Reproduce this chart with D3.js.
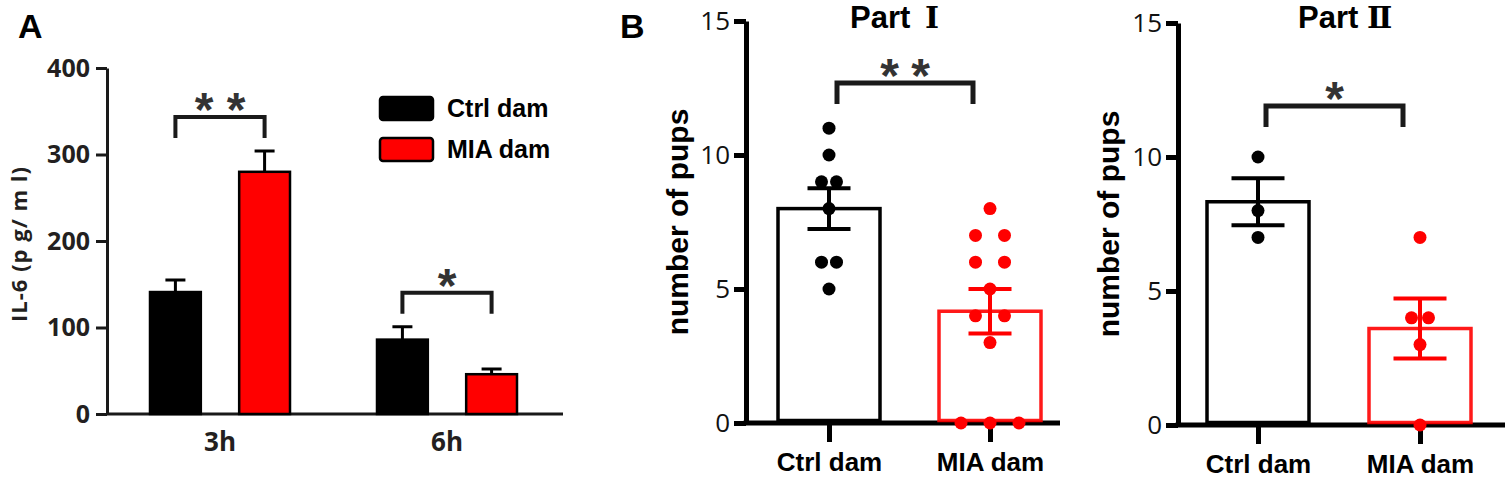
<!DOCTYPE html>
<html>
<head>
<meta charset="utf-8">
<script src="https://cdn.jsdelivr.net/npm/d3@7"></script>
<style>
  body { margin: 0; background: #fff; }
  svg { display: block; }
</style>
</head>
<body>
<div id="svg-container"></div>
<script>
// ---- Panel A data (IL-6, pg/ml) ----
const timePoints = ['3h', '6h']
const damGroups = ['Ctrl dam', 'MIA dam']
const il6Ctrl = [141, 86]
const il6CtrlSem = [14, 15]
const il6Mia = [280, 46]
const il6MiaSem = [24, 6]
const il6Ticks = [0, 100, 200, 300, 400]
const il6Stars = ['**', '*']

// ---- Panel B data (number of pups) ----
const part1Ctrl = [11, 10, 9, 9, 8, 6, 6, 5]
const part1Mia = [8, 7, 7, 6, 6, 5, 4, 4, 3, 0, 0, 0]
const part1Means = [8.0, 4.17]
const part1Sem = [0.76, 0.83]
const part2Ctrl = [10, 8, 7]
const part2Mia = [7, 4, 4, 3, 0]
const part2Means = [8.33, 3.6]
const part2Sem = [0.88, 1.12]
const pupTicks = [0, 5, 10, 15]
const partNames = ['Part', 'Part']
const partNumerals = ['Ⅰ', 'Ⅱ']
const pupStars = ['**', '*']

const width = 1505
const height = 479
const arial = "'Liberation Sans', Arial, sans-serif"
const calibri = "'Open Sans', 'Noto Sans', sans-serif"
const serif = "'DejaVu Serif', 'Noto Sans CJK SC', serif"
const red = '#ff0000'
const ink = '#111'

const svg = d3
  .select('#svg-container')
  .append('svg')
  .attr('width', width)
  .attr('height', height)
  .attr('viewBox', `0 0 ${width} ${height}`)
  .style('background', '#fff')

// draws a significance bracket with stars above it
const drawBracket = (g, x1, x2, top, bottom, stars, starSize, strokeW, starGap) => {
  g.append('path')
    .attr('d', `M${x1},${bottom}V${top}H${x2}V${bottom}`)
    .attr('fill', 'none')
    .attr('stroke', '#1a1a1a')
    .attr('stroke-width', strokeW)
  const cx = (x1 + x2) / 2
  const chars = stars.split('')
  chars.forEach((c, i) => {
    g.append('text')
      .attr('x', cx + (i - (chars.length - 1) / 2) * starGap)
      .attr('y', top - 18 + starSize * 0.56)
      .attr('text-anchor', 'middle')
      .attr('font-family', arial)
      .attr('font-weight', 700)
      .attr('font-size', starSize)
      .attr('fill', '#333')
      .text(c)
  })
}

// ================= Panel A =================
const panelA = svg.append('g')

panelA
  .append('text')
  .attr('x', 18)
  .attr('y', 38)
  .attr('font-family', arial)
  .attr('font-weight', 700)
  .attr('font-size', 34)
  .text('A')

const aY = d3.scaleLinear().domain([0, 400]).range([414, 68])
const aX = d3.scalePoint().domain(timePoints).range([220, 447])
const aInner = d3.scaleBand().domain(damGroups).range([-70, 70]).paddingInner(0.43)
const aColor = d3.scaleOrdinal().domain(damGroups).range(['#000000', red])

const aRows = timePoints.map((t, i) => ({
  t,
  stars: il6Stars[i],
  values: [
    { g: damGroups[0], mean: il6Ctrl[i], sem: il6CtrlSem[i] },
    { g: damGroups[1], mean: il6Mia[i], sem: il6MiaSem[i] },
  ],
}))

panelA
  .append('g')
  .attr('transform', `translate(107,0)`)
  .call(d3.axisLeft(aY).tickValues(il6Ticks).tickSize(11).tickSizeOuter(0).tickPadding(6))
  .call(g => g.select('.domain').attr('stroke', '#1a1a1a').attr('stroke-width', 3))
  .call(g => g.selectAll('.tick line').attr('stroke', '#1a1a1a').attr('stroke-width', 3))
  .call(g =>
    g
      .selectAll('.tick text')
      .attr('font-family', calibri)
      .attr('font-weight', 700)
      .attr('font-size', 25)
      .attr('fill', '#231f20'),
  )

panelA
  .append('line')
  .attr('x1', 106)
  .attr('x2', 563)
  .attr('y1', aY(0))
  .attr('y2', aY(0))
  .attr('stroke', '#1a1a1a')
  .attr('stroke-width', 3)

panelA
  .append('g')
  .selectAll('text')
  .data(timePoints)
  .join('text')
  .attr('x', d => aX(d))
  .attr('y', 451)
  .attr('text-anchor', 'middle')
  .attr('font-family', calibri)
  .attr('font-weight', 700)
  .attr('font-size', 26)
  .attr('fill', '#231f20')
  .text(d => d)

panelA
  .append('text')
  .attr('transform', 'translate(27,244) rotate(-90)')
  .attr('text-anchor', 'middle')
  .attr('font-family', calibri)
  .attr('font-weight', 700)
  .attr('font-size', 22)
  .attr('letter-spacing', 1)
  .attr('fill', '#231f20')
  .text('IL-6 (p g/ m l)')

const aGroups = panelA
  .append('g')
  .selectAll('g')
  .data(aRows)
  .join('g')
  .attr('transform', d => `translate(${aX(d.t)},0)`)

aGroups
  .selectAll('rect')
  .data(d => d.values)
  .join('rect')
  .attr('x', d => aInner(d.g))
  .attr('width', aInner.bandwidth())
  .attr('y', d => aY(d.mean))
  .attr('height', d => aY(0) - aY(d.mean))
  .attr('fill', d => aColor(d.g))
  .attr('stroke', '#000')
  .attr('stroke-width', 2.5)

aGroups
  .selectAll('path.err')
  .data(d => d.values)
  .join('path')
  .attr('class', 'err')
  .attr('d', d => {
    const cx = aInner(d.g) + aInner.bandwidth() / 2
    const top = aY(d.mean + d.sem)
    return `M${cx},${aY(d.mean)}V${top}M${cx - 10},${top}H${cx + 10}`
  })
  .attr('fill', 'none')
  .attr('stroke', '#000')
  .attr('stroke-width', 3)

aRows.forEach(row => {
  const cx0 = aX(row.t) + aInner(damGroups[0]) + aInner.bandwidth() / 2
  const cx1 = aX(row.t) + aInner(damGroups[1]) + aInner.bandwidth() / 2
  const highest = d3.max(row.values, v => v.mean + v.sem)
  const bottom = aY(highest) - 13
  drawBracket(panelA, cx0, cx1, bottom - 21, bottom, row.stars, 48, 4, 32)
})

// legend
const legend = panelA
  .append('g')
  .selectAll('g')
  .data(damGroups)
  .join('g')
  .attr('transform', (d, i) => `translate(380,${97 + i * 41})`)

legend
  .append('rect')
  .attr('width', 53)
  .attr('height', 23)
  .attr('rx', 3)
  .attr('fill', d => aColor(d))
  .attr('stroke', '#000')
  .attr('stroke-width', 2.5)

legend
  .append('text')
  .attr('x', 67)
  .attr('y', 20)
  .attr('font-family', arial)
  .attr('font-weight', 700)
  .attr('font-size', 25)
  .text(d => d)

// ================= Panel B =================
svg
  .append('text')
  .attr('x', 620)
  .attr('y', 38)
  .attr('font-family', arial)
  .attr('font-weight', 700)
  .attr('font-size', 34)
  .text('B')

// spreads equal values side by side, like a scatter-dot plot
const spread = (vals, gap) => {
  const counts = d3.rollup(vals, v => v.length, d => d)
  const seen = new Map()
  return vals.map(v => {
    const n = counts.get(v)
    const k = seen.get(v) || 0
    seen.set(v, k + 1)
    return { v, dx: (k - (n - 1) / 2) * gap }
  })
}

const parts = [
  {
    name: partNames[0],
    numeral: partNumerals[0],
    points: [part1Ctrl, part1Mia],
    means: part1Means,
    sems: part1Sem,
    stars: pupStars[0],
    axisX: 746,
    axisEnd: 1060,
    yRange: [423, 21],
    centers: [829, 990],
    gaps: [15, 29],
    capW: 43,
    bracketTop: 83,
    titleX: 850,
    numeralX: 925,
    yLabelX: 688,
    yLabelY: 222,
  },
  {
    name: partNames[1],
    numeral: partNumerals[1],
    points: [part2Ctrl, part2Mia],
    means: part2Means,
    sems: part2Sem,
    stars: pupStars[1],
    axisX: 1178,
    axisEnd: 1505,
    yRange: [425, 23],
    centers: [1258, 1420],
    gaps: [15, 17],
    capW: 53,
    bracketTop: 106,
    titleX: 1298,
    numeralX: 1367,
    yLabelX: 1119,
    yLabelY: 224,
  },
]

const bColor = d3.scaleOrdinal().domain(damGroups).range(['#000000', red])

parts.forEach(p => {
  const g = svg.append('g')
  const y = d3.scaleLinear().domain([0, 15]).range(p.yRange)
  const x = d3.scalePoint().domain(damGroups).range(p.centers)
  const barW = 102

  // y axis
  g.append('g')
    .attr('transform', `translate(${p.axisX},0)`)
    .call(d3.axisLeft(y).tickValues(pupTicks).tickSize(12).tickSizeOuter(0).tickPadding(4))
    .call(a => a.select('.domain').attr('stroke', '#000').attr('stroke-width', 5))
    .call(a => a.selectAll('.tick line').attr('stroke', '#000').attr('stroke-width', 5))
    .call(a =>
      a
        .selectAll('.tick text')
        .attr('font-family', calibri)
        .attr('font-size', 26)
        .attr('fill', ink),
    )

  // x axis
  g.append('line')
    .attr('x1', p.axisX - 2.5)
    .attr('x2', p.axisEnd)
    .attr('y1', y(0))
    .attr('y2', y(0))
    .attr('stroke', '#000')
    .attr('stroke-width', 5)

  g.append('g')
    .attr('transform', `translate(0,${y(0)})`)
    .call(d3.axisBottom(x).tickSize(19).tickPadding(14))
    .call(a => a.select('.domain').remove())
    .call(a => a.selectAll('.tick line').attr('stroke', '#000').attr('stroke-width', 5))
    .call(a =>
      a
        .selectAll('.tick text')
        .attr('dy', 0)
        .attr('y', 48)
        .attr('font-family', arial)
        .attr('font-weight', 700)
        .attr('font-size', 26)
        .attr('fill', '#000'),
    )

  // bars, dots, error bars
  damGroups.forEach((grp, i) => {
    const cx = x(grp)
    const col = bColor(grp)
    g.append('rect')
      .attr('x', cx - barW / 2)
      .attr('width', barW)
      .attr('y', y(p.means[i]))
      .attr('height', y(0) - y(p.means[i]) - 2.5)
      .attr('fill', '#fff')
      .attr('stroke', col)
      .attr('stroke-opacity', i === 1 ? 0.9 : 1)
      .attr('stroke-width', 3.5)

    g.append('g')
      .selectAll('circle')
      .data(spread(p.points[i], p.gaps[i]))
      .join('circle')
      .attr('cx', d => cx + d.dx)
      .attr('cy', d => y(d.v))
      .attr('r', 6.5)
      .attr('fill', col)

    const hi = y(p.means[i] + p.sems[i])
    const lo = y(p.means[i] - p.sems[i])
    const hw = p.capW / 2
    g.append('path')
      .attr('d', `M${cx},${lo}V${hi}M${cx - hw},${hi}H${cx + hw}M${cx - hw},${lo}H${cx + hw}`)
      .attr('fill', 'none')
      .attr('stroke', col)
      .attr('stroke-width', 4)
  })

  drawBracket(g, x(damGroups[0]) + 8, x(damGroups[1]) - 17, p.bracketTop, p.bracketTop + 21, p.stars, 48, 5, 31)

  // title
  g.append('text')
    .attr('x', p.titleX)
    .attr('y', 28)
    .attr('font-family', arial)
    .attr('font-weight', 700)
    .attr('font-size', 31)
    .text(p.name)
  g.append('text')
    .attr('x', p.numeralX)
    .attr('y', 28)
    .attr('font-family', serif)
    .attr('font-weight', 700)
    .attr('font-size', 30)
    .text(p.numeral)

  // y label
  g.append('text')
    .attr('transform', `translate(${p.yLabelX},${p.yLabelY}) rotate(-90)`)
    .attr('text-anchor', 'middle')
    .attr('font-family', arial)
    .attr('font-weight', 700)
    .attr('font-size', 30)
    .text('number of pups')
})
</script>
</body>
</html>
